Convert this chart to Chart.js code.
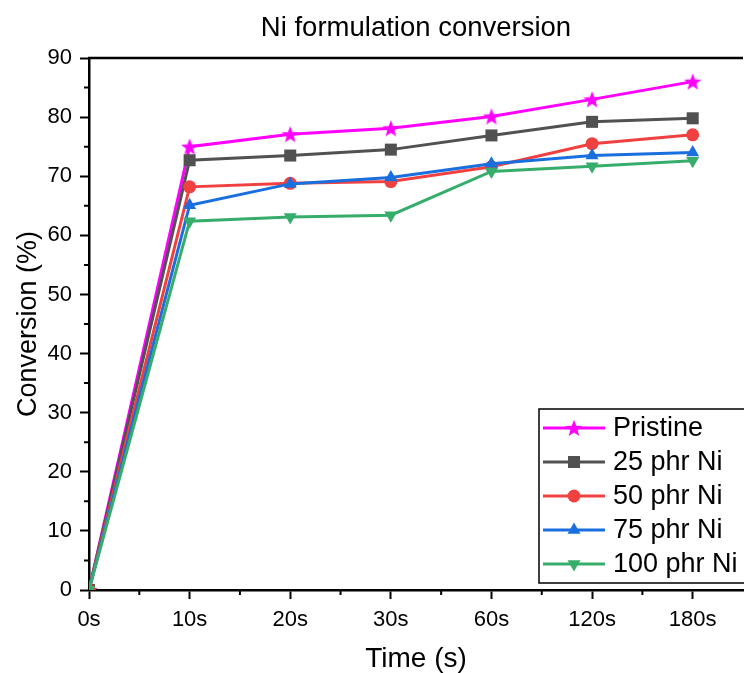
<!DOCTYPE html>
<html>
<head>
<meta charset="utf-8">
<script src="https://cdn.jsdelivr.net/npm/chart.js@4"></script>
<style>
  html, body { margin: 0; padding: 0; background: #fff; overflow: hidden; }
  #wrap { width: 752px; height: 673px; }
</style>
</head>
<body>
<div id="wrap"><canvas id="convChart"></canvas></div>
<script>
const timeLabels = ["0s", "10s", "20s", "30s", "60s", "120s", "180s"];
const pristine = [0, 75.0, 77.1, 78.1, 80.1, 83.0, 86.0];
const ni25 = [0, 72.7, 73.5, 74.5, 76.9, 79.2, 79.8];
const ni50 = [0, 68.2, 68.8, 69.1, 71.6, 75.5, 77.0];
const ni75 = [0, 65.1, 68.7, 69.8, 72.1, 73.5, 74.0];
const ni100 = [0, 62.4, 63.1, 63.4, 70.8, 71.7, 72.6];

const FONT = "'Liberation Sans', Arial, sans-serif";

function starImage(size, color) {
  const c = document.createElement("canvas");
  c.width = size; c.height = size;
  const g = c.getContext("2d");
  const cx = size / 2, cy = size / 2 + 0.8, R = size / 2, r = R * 0.42;
  g.beginPath();
  for (let i = 0; i < 10; i++) {
    const rad = i % 2 === 0 ? R : r;
    const a = -Math.PI / 2 + i * Math.PI / 5;
    g.lineTo(cx + rad * Math.cos(a), cy + rad * Math.sin(a));
  }
  g.closePath();
  g.fillStyle = color;
  g.fill();
  return c;
}

const star = starImage(18, "#ff00ff");

function series(label, values, color, style, radius, rotation) {
  return {
    label: label,
    data: values.map((v, i) => ({ x: i, y: v })),
    borderColor: color,
    backgroundColor: color,
    borderWidth: 3,
    pointStyle: style,
    pointRadius: radius,
    pointRotation: rotation || 0,
    pointBorderWidth: 0,
    pointBackgroundColor: color,
    tension: 0,
    clip: 0
  };
}

const datasets = [
  series("100 phr Ni", ni100, "#37ad6b", "triangle", 7.5, 180),
  series("75 phr Ni", ni75, "#1a6fdf", "triangle", 7.5),
  series("50 phr Ni", ni50, "#f14040", "circle", 6.5),
  series("25 phr Ni", ni25, "#515151", "rect", 8.5),
  series("Pristine", pristine, "#ff00ff", star, 9)
];

// title, top frame line, minor ticks and the boxed legend
const decor = {
  id: "decor",
  afterDraw(chart) {
    const { ctx, chartArea: a, scales } = chart;
    ctx.save();
    ctx.fillStyle = "#000";
    ctx.font = "27.5px " + FONT;
    ctx.textAlign = "center";
    ctx.textBaseline = "middle";
    ctx.fillText("Ni formulation conversion", (a.left + a.right) / 2, 28);

    ctx.strokeStyle = "#000";
    ctx.lineWidth = 2.5;
    ctx.beginPath();
    ctx.moveTo(a.left - 1, a.top);
    ctx.lineTo(a.right, a.top);
    ctx.stroke();

    ctx.lineWidth = 2;
    ctx.beginPath();
    for (let v = 0.5; v < 6.5; v += 1) {
      const x = scales.x.getPixelForValue(v);
      ctx.moveTo(x, a.bottom);
      ctx.lineTo(x, a.bottom + 5);
    }
    for (let v = 5; v < 90; v += 10) {
      const y = scales.y.getPixelForValue(v);
      ctx.moveTo(a.left, y);
      ctx.lineTo(a.left - 5, y);
    }
    ctx.stroke();

    // legend
    const lx = 539, ly = 409, lw = 215, lh = 174;
    ctx.fillStyle = "#fff";
    ctx.fillRect(lx, ly, lw, lh);
    ctx.lineWidth = 1.5;
    ctx.strokeRect(lx, ly, lw, lh);
    const order = datasets.slice().reverse();
    ctx.font = "27px " + FONT;
    ctx.textAlign = "left";
    order.forEach((ds, i) => {
      const y = 428 + i * 34;
      ctx.strokeStyle = ds.borderColor;
      ctx.lineWidth = 3;
      ctx.beginPath();
      ctx.moveTo(543, y);
      ctx.lineTo(605, y);
      ctx.stroke();
      ctx.fillStyle = ds.backgroundColor;
      Chart.helpers.drawPoint(ctx, {
        pointStyle: ds.pointStyle,
        rotation: ds.pointRotation,
        radius: ds.pointRadius,
        borderWidth: 0
      }, 574, y);
      ctx.fillStyle = "#000";
      ctx.fillText(ds.label, 613, y + 1);
    });
    ctx.restore();
  }
};

new Chart(document.getElementById("convChart"), {
  type: "line",
  data: { datasets: datasets },
  plugins: [decor],
  options: {
    responsive: true,
    maintainAspectRatio: false,
    animation: false,
    layout: { padding: { top: 58, left: 0, right: 2, bottom: 0 } },
    plugins: { legend: { display: false }, tooltip: { enabled: false } },
    scales: {
      x: {
        type: "linear",
        min: 0,
        max: 6.5,
        afterFit: s => { s.height = 83; },
        border: { color: "#000", width: 2.5 },
        grid: {
          drawOnChartArea: false,
          tickLength: 9,
          tickWidth: 2,
          tickColor: c => (c.tick && Number.isInteger(c.tick.value)) ? "#000" : "rgba(0,0,0,0)"
        },
        ticks: {
          stepSize: 1,
          includeBounds: false,
          autoSkip: false,
          maxRotation: 0,
          padding: 8,
          color: "#000",
          font: { family: FONT, size: 22 },
          callback: v => Number.isInteger(v) ? (timeLabels[v] || "") : ""
        },
        title: {
          display: true,
          text: "Time (s)",
          color: "#000",
          padding: { top: 0, bottom: 0 },
          font: { family: FONT, size: 28, lineHeight: 1 }
        }
      },
      y: {
        min: 0,
        max: 90,
        afterFit: s => { s.width = 89; },
        border: { color: "#000", width: 2.5 },
        grid: {
          drawOnChartArea: false,
          tickLength: 9,
          tickWidth: 2,
          tickColor: "#000"
        },
        ticks: {
          stepSize: 10,
          padding: 8,
          color: "#000",
          font: { family: FONT, size: 22 }
        },
        title: {
          display: true,
          text: "Conversion (%)",
          color: "#000",
          padding: { top: 15, bottom: 0 },
          font: { family: FONT, size: 27, lineHeight: 1 }
        }
      }
    }
  }
});
</script>
</body>
</html>
